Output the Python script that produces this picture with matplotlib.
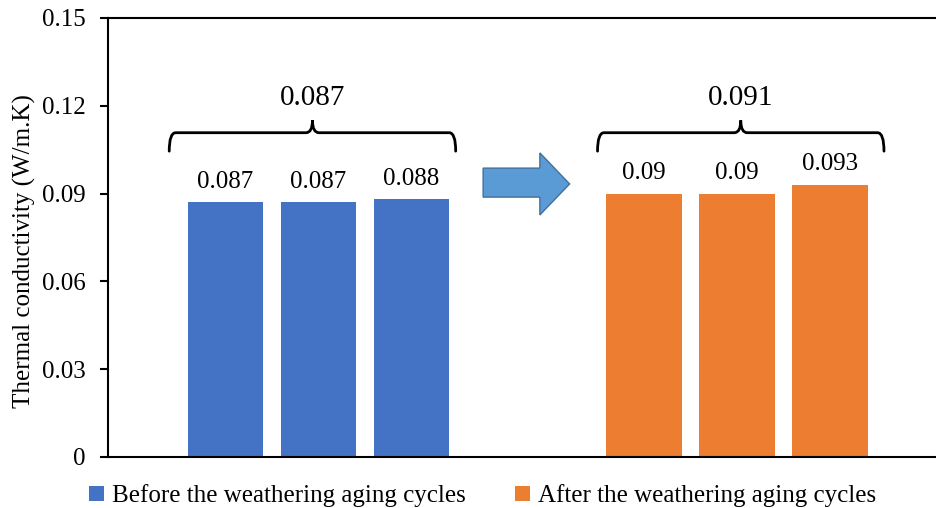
import matplotlib
matplotlib.use("Agg")
import matplotlib.pyplot as plt
from matplotlib.path import Path
from matplotlib.patches import PathPatch, Polygon
import numpy as np

plt.rcParams['font.family'] = ['Liberation Serif', 'DejaVu Serif']

before_vals = [0.087, 0.087, 0.088]
after_vals = [0.090, 0.090, 0.093]
before_label = "Before the weathering aging cycles"
after_label = "After the weathering aging cycles"
group_means = ["0.087", "0.091"]
before_text = ["0.087", "0.087", "0.088"]
after_text = ["0.09", "0.09", "0.093"]
yticks = [0, 0.03, 0.06, 0.09, 0.12, 0.15]
ytick_labels = ["0", "0.03", "0.06", "0.09", "0.12", "0.15"]

blue = "#4472C4"
orange = "#ED7D31"

fig = plt.figure(figsize=(9.37, 5.08), dpi=100)
ax = fig.add_axes([0.1153, 0.1004, 0.8847, 0.8642])

xb = np.arange(len(before_vals))
xa = np.arange(len(after_vals)) + len(before_vals) + 1.5
w = 0.81
bb = ax.bar(xb, before_vals, width=w, color=blue, label=before_label)
ba = ax.bar(xa, after_vals, width=w, color=orange, label=after_label)
ax.bar_label(bb, labels=before_text, padding=7, fontsize=18)
ax.bar_label(ba, labels=after_text, padding=7, fontsize=18)

ax.set_ylim(0, 0.15)
ax.set_xlim(-1.263, 7.65)
ax.set_yticks(yticks)
ax.set_yticklabels(ytick_labels, fontsize=18)
ax.set_xticks([])
ax.tick_params(axis='y', direction='out', length=6, width=1.5, pad=10)
for s in ['left', 'top', 'bottom']:
    ax.spines[s].set_linewidth(1.5)
ax.spines['right'].set_visible(False)
ax.set_ylabel("Thermal conductivity (W/m.K)", fontsize=18)
ax.yaxis.set_label_coords(-0.087, 0.47)


def brace(cx, half, yl, ydown, yup, rx=0.07):
    x0, x1 = cx - half, cx + half
    verts = [
        (x0, ydown), (x0, yl), (x0 + rx, yl),
        (cx - rx, yl), (cx, yl), (cx, yup),
        (cx, yl), (cx + rx, yl),
        (x1 - rx, yl), (x1, yl), (x1, ydown),
    ]
    codes = [Path.MOVETO, Path.CURVE3, Path.CURVE3,
             Path.LINETO, Path.CURVE3, Path.CURVE3,
             Path.CURVE3, Path.CURVE3,
             Path.LINETO, Path.CURVE3, Path.CURVE3]
    ax.add_patch(PathPatch(Path(verts, codes), fill=False, lw=2, color='black',
                           capstyle='round'))


centers = [xb.mean() - 0.065, xa.mean() + 0.04]
for c, t in zip(centers, group_means):
    brace(c, 1.54, 0.1108, 0.1045, 0.1150)
    ax.text(c, 0.1225, t, ha='center', va='center', fontsize=21)

# block arrow
ax_x0, ax_x1, ax_xh = 2.77, 3.70, 3.38
arrow = Polygon([(ax_x0, 0.0888), (ax_xh, 0.0888), (ax_xh, 0.0827),
                 (ax_x1, 0.0933), (ax_xh, 0.1039), (ax_xh, 0.0987),
                 (ax_x0, 0.0987)], closed=True, facecolor="#5B9BD5",
                edgecolor="#41719C", lw=1)
ax.add_patch(arrow)

leg = fig.legend(handles=[bb, ba], loc='center', bbox_to_anchor=(0.515, 0.024),
                 ncol=2, frameon=False, fontsize=18, handlelength=0.6,
                 handleheight=0.6, handletextpad=0.3, columnspacing=2.0)

fig.savefig("out.png", dpi=100)
